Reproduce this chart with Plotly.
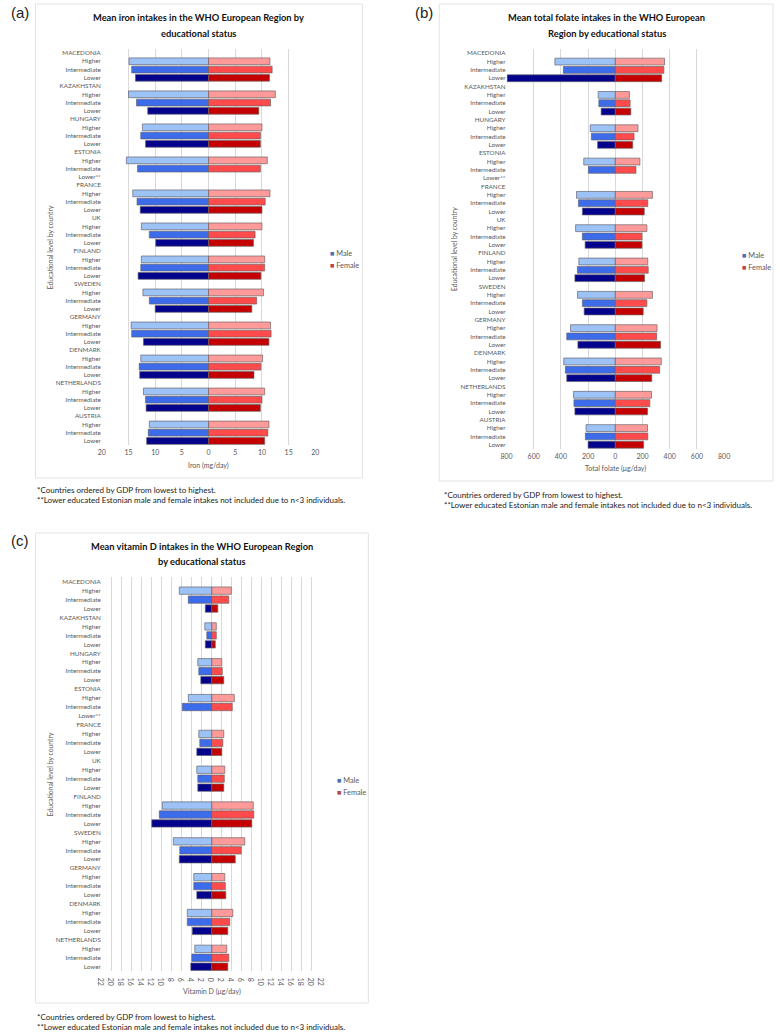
import plotly.graph_objects as go

# ---------------- data ----------------
levels = ["Higher", "Intermediate", "Lower"]
countries = ["MACEDONIA", "KAZAKHSTAN", "HUNGARY", "ESTONIA", "FRANCE", "UK",
             "FINLAND", "SWEDEN", "GERMANY", "DENMARK", "NETHERLANDS", "AUSTRIA"]
countries_vitd = ["MACEDONIA", "KAZAKHSTAN", "HUNGARY", "ESTONIA", "FRANCE", "UK",
                  "FINLAND", "SWEDEN", "GERMANY", "DENMARK", "NETHERLANDS"]

# Iron (mg/day)
iron_male_higher = [14.9, 15.0, 12.4, 15.4, 14.2, 12.6, 12.6, 12.3, 14.5, 12.7, 12.2, 11.1]
iron_male_intermediate = [14.4, 13.5, 12.7, 13.3, 13.4, 11.1, 12.7, 11.1, 14.4, 13.0, 11.8, 11.3]
iron_male_lower = [13.7, 11.4, 11.8, None, 12.8, 9.9, 13.2, 10.0, 12.2, 12.9, 11.7, 11.6]
iron_female_higher = [11.5, 12.5, 10.0, 11.0, 11.5, 10.0, 10.5, 10.3, 11.6, 10.1, 10.5, 11.3]
iron_female_intermediate = [11.9, 11.6, 9.7, 9.7, 10.6, 8.7, 10.5, 9.0, 11.7, 9.8, 10.0, 11.1]
iron_female_lower = [11.4, 9.4, 9.7, None, 10.0, 8.4, 9.8, 8.1, 11.3, 8.5, 9.7, 10.5]

# Total folate (ug/day)
folate_male_higher = [444, 126, 184, 232, 285, 292, 268, 278, 329, 379, 307, 215]
folate_male_intermediate = [382, 121, 176, 198, 271, 242, 278, 242, 357, 367, 304, 220]
folate_male_lower = [795, 104, 130, None, 242, 222, 297, 229, 275, 357, 297, 200]
folate_female_higher = [362, 104, 167, 181, 273, 232, 239, 273, 307, 338, 266, 237]
folate_female_intermediate = [357, 109, 138, 152, 239, 196, 242, 232, 304, 326, 254, 239]
folate_female_lower = [341, 114, 128, None, 213, 196, 215, 205, 333, 268, 237, 208]

# Vitamin D (ug/day)
vitd_male_higher = [6.5, 1.4, 2.8, 4.7, 2.6, 3.0, 9.9, 7.7, 3.6, 4.9, 3.4]
vitd_male_intermediate = [4.7, 1.0, 2.6, 5.9, 2.4, 2.8, 10.5, 6.4, 3.6, 4.9, 4.0]
vitd_male_lower = [1.3, 1.3, 2.2, None, 3.0, 2.8, 12.0, 6.5, 3.0, 3.9, 4.2]
vitd_female_higher = [3.9, 0.9, 2.0, 4.5, 2.4, 2.6, 8.3, 6.6, 2.6, 4.2, 3.0]
vitd_female_intermediate = [3.4, 0.9, 2.1, 4.1, 2.2, 2.5, 8.4, 5.9, 2.7, 3.6, 3.4]
vitd_female_lower = [1.2, 0.7, 2.4, None, 2.0, 2.4, 8.0, 4.7, 2.8, 3.2, 3.2]

iron_ticks = [-20, -15, -10, -5, 0, 5, 10, 15, 20]
folate_ticks = [-800, -600, -400, -200, 0, 200, 400, 600, 800]
vitd_ticks = list(range(-22, 23, 2))

# ---------------- style ----------------
W, H = 782, 1032
FONT = "Lato"
TXT = "#595959"
GRID = "#D9D9D9"
male_colors = ["#9DC3F6", "#3D6CEB", "#03038C"]
female_colors = ["#FF9A9A", "#FF4B4B", "#C40000"]


def px_x(x):
    return x / W


def px_y(y):
    return 1 - y / H


fig = go.Figure()


def add_panel(idx, ctry, male_sets, female_sets):
    xa = "x" if idx == 1 else f"x{idx}"
    ya = "y" if idx == 1 else f"y{idx}"
    for li, lev in enumerate(levels):
        ys = [4 * i + 1 + li for i in range(len(ctry))]
        mv = [(-v if v is not None else None) for v in male_sets[li]]
        fig.add_trace(go.Bar(x=mv, y=ys, orientation="h", xaxis=xa, yaxis=ya,
                             width=0.82, marker=dict(color=male_colors[li],
                             line=dict(color="rgba(95,95,110,0.85)", width=0.8)),
                             showlegend=False, name=f"Male {lev}"))
        fig.add_trace(go.Bar(x=female_sets[li], y=ys, orientation="h", xaxis=xa, yaxis=ya,
                             width=0.82, marker=dict(color=female_colors[li],
                             line=dict(color="rgba(110,95,95,0.85)", width=0.8)),
                             showlegend=False, name=f"Female {lev}"))


add_panel(1, countries,
          [iron_male_higher, iron_male_intermediate, iron_male_lower],
          [iron_female_higher, iron_female_intermediate, iron_female_lower])
add_panel(2, countries,
          [folate_male_higher, folate_male_intermediate, folate_male_lower],
          [folate_female_higher, folate_female_intermediate, folate_female_lower])
add_panel(3, countries_vitd,
          [vitd_male_higher, vitd_male_intermediate, vitd_male_lower],
          [vitd_female_higher, vitd_female_intermediate, vitd_female_lower])


def row_ticks(ctry):
    vals, texts = [], []
    for i, c in enumerate(ctry):
        vals.append(4 * i)
        texts.append(c)
        for li, lev in enumerate(levels):
            vals.append(4 * i + 1 + li)
            texts.append("Lower**" if (c == "ESTONIA" and lev == "Lower") else lev)
    return vals, texts


def xaxis_def(ticks, x0, x1, anchor):
    return dict(domain=[px_x(x0), px_x(x1)], range=[ticks[0], ticks[-1]],
                tickvals=ticks, ticktext=[str(abs(t)) for t in ticks],
                showgrid=True, gridcolor=GRID, gridwidth=1, zeroline=False,
                showline=False, ticks="", tickfont=dict(family=FONT, size=7, color=TXT),
                ticklabelstandoff=2, anchor=anchor, fixedrange=True)


def yaxis_def(ctry, y_top, y_bot, anchor):
    vals, texts = row_ticks(ctry)
    n = 4 * len(ctry)
    return dict(domain=[px_y(y_bot), px_y(y_top)], range=[n - 0.5, -0.5],
                tickvals=vals, ticktext=texts, showgrid=False, zeroline=False,
                showline=False, ticks="", tickfont=dict(family=FONT, size=6.3, color=TXT),
                anchor=anchor, fixedrange=True)


fig.update_layout(
    width=W, height=H, margin=dict(l=0, r=0, t=0, b=0),
    paper_bgcolor="white", plot_bgcolor="white",
    barmode="overlay", showlegend=False,
    font=dict(family=FONT, color=TXT),
    xaxis=xaxis_def(iron_ticks, 97.3, 314.2, "y"),
    yaxis=yaxis_def(countries, 48.9, 445.1, "x"),
    xaxis2=xaxis_def(folate_ticks, 508.3, 729.3, "y2"),
    yaxis2=yaxis_def(countries, 49.1, 448.9, "x2"),
    xaxis3=xaxis_def(vitd_ticks, 97.3, 320.7, "y3"),
    yaxis3=yaxis_def(countries_vitd, 577.2, 971.2, "x3"),
)

shapes = []
annotations = []


def box(x0, y0, x1, y1):
    shapes.append(dict(type="rect", xref="paper", yref="paper",
                       x0=px_x(x0), x1=px_x(x1), y0=px_y(y1), y1=px_y(y0),
                       line=dict(color="#E3E3E3", width=1), fillcolor="rgba(0,0,0,0)",
                       layer="below"))


def text(x, y, s, size, color=TXT, xanchor="center", bold=False, angle=0,
         family=FONT):
    annotations.append(dict(xref="paper", yref="paper", x=px_x(x), y=px_y(y),
                            text=f"<b>{s}</b>" if bold else s, showarrow=False,
                            xanchor=xanchor, yanchor="middle", textangle=angle,
                            font=dict(family=family, size=size, color=color)))


# panel boxes
box(30, 4, 362, 478)
box(440, 4, 779, 481)
box(30, 533, 368, 1003)

# panel letters
text(3, 12, "(a)", 15, "#222222", "left", family="Liberation Sans")
text(413, 12, "(b)", 15, "#222222", "left", family="Liberation Sans")
text(3, 540, "(c)", 15, "#222222", "left", family="Liberation Sans")

# titles
TS = 9.3
text(196, 17.5, "Mean iron intakes in the WHO European Region by", TS, "#111111", bold=True)
text(196, 33, "educational status", TS, "#111111", bold=True)
text(610, 17.5, "Mean total folate intakes in the WHO European", TS, "#111111", bold=True)
text(610, 33, "Region by educational status", TS, "#111111", bold=True)
text(199, 546, "Mean vitamin D intakes in the WHO European Region", TS, "#111111", bold=True)
text(199, 561, "by educational status", TS, "#111111", bold=True)

# axis titles
text(206, 465, "Iron (mg/day)", 7)
text(619, 469, "Total folate (μg/day)", 7)
text(209, 991, "Vitamin D (μg/day)", 7)
text(45, 247, "Educational level by country", 6.8, angle=-90)
text(455, 249, "Educational level by country", 6.8, angle=-90)
text(45, 774, "Educational level by country", 6.8, angle=-90)

# legends
for (lx, ly) in [(327, 253), (745, 255), (334, 780)]:
    text(lx, ly, "<span style='color:#4A6FB5'>■</span> Male", 7.3, xanchor="left")
    text(lx, ly + 12.5, "<span style='color:#B5444F'>■</span> Female", 7.3, xanchor="left")

# footnotes
for (fx, fy) in [(29, 489.5), (443, 494.5), (29, 1017)]:
    text(fx, fy, "*Countries ordered by GDP from lowest to highest.", 8, "#222222", "left")
    text(fx, fy + 10, "**Lower educated Estonian male and female intakes not included due to n<3 individuals.",
         8, "#222222", "left")

fig.update_layout(shapes=shapes, annotations=annotations)
fig.write_html("out.html", config={"displayModeBar": False},
               post_script="document.body.style.margin='0px';document.body.style.padding='0px';"
                           "document.body.style.overflow='hidden';")
